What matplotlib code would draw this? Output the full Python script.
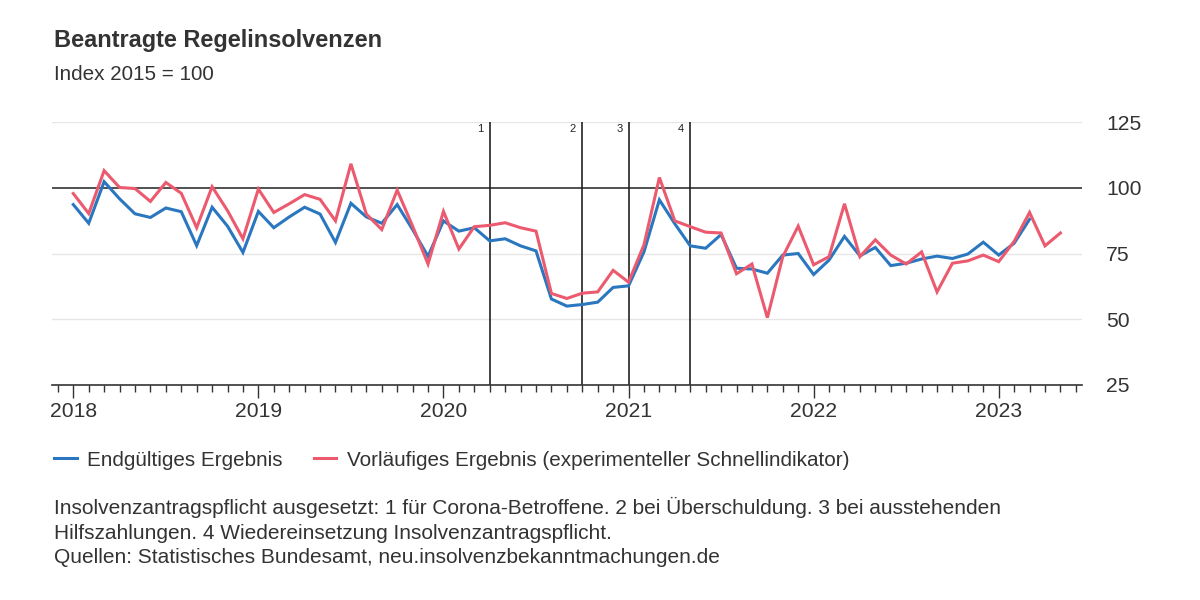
import numpy as np
import matplotlib
matplotlib.use("Agg")
import matplotlib.pyplot as plt

plt.rcParams['font.family'] = ['Liberation Sans', 'DejaVu Sans']

# monthly values starting Jan 2018
endgueltig = [
    93.6, 86.5, 102.3, 95.8, 90.1, 88.7, 92.3, 90.9, 78.0, 92.6, 85.4, 75.4,
    91.0, 84.8, 88.9, 92.6, 90.0, 79.2, 94.1, 88.9, 86.5, 93.6, 84.1, 73.9,
    87.4, 83.5, 84.8, 79.8, 80.6, 77.9, 76.0, 57.7, 55.0, 55.6, 56.5, 62.1,
    62.7, 75.6, 95.4, 86.3, 77.9, 77.0, 82.2, 69.4, 69.1, 67.5, 74.4, 75.0,
    67.0, 72.5, 81.5, 74.1, 77.3, 70.4, 71.3, 72.9, 74.0, 73.1, 74.8, 79.3,
    74.4, 78.9, 88.0,
]
vorlaeufig = [
    97.8, 90.2, 106.5, 100.1, 99.7, 94.8, 102.0, 97.9, 84.8, 100.4, 91.3, 80.6,
    99.5, 90.6, 93.9, 97.4, 95.6, 87.4, 109.1, 90.0, 84.1, 99.1, 85.4, 71.0,
    91.0, 76.7, 85.2, 85.7, 86.7, 84.8, 83.5, 59.8, 57.9, 59.9, 60.4, 68.6,
    64.1, 78.3, 103.9, 87.4, 85.2, 83.1, 82.8, 67.3, 71.0, 50.6, 73.8, 85.4,
    70.7, 73.8, 93.9, 73.8, 80.2, 74.4, 71.0, 75.6, 60.4, 71.3, 72.2, 74.4,
    71.9, 79.6, 90.6, 77.9, 82.8,
]
years = ["2018", "2019", "2020", "2021", "2022", "2023"]
# event markers (month index since Jan 2018) and labels
event_months = [27, 33, 36, 40]
event_labels = ["1", "2", "3", "4"]

blue = "#2a77c0"
red = "#eb5a6e"
text_col = "#333333"

fig = plt.figure(figsize=(12, 6), dpi=100)
ax = fig.add_axes([52 / 1200, 1 - 385 / 600, 1030 / 1200, 263 / 600])

ax.set_xlim(-1.38, 65.4)
ax.set_ylim(25, 125)

for v in [50, 75, 125]:
    ax.axhline(v, color="#e6e6e6", lw=1, zorder=0)
ax.axhline(100, color="#333333", lw=1.2, zorder=1)

for m, lab in zip(event_months, event_labels):
    ax.axvline(m, color="#222222", lw=1.2, zorder=1)
    ax.text(m - 0.4, 122.5, lab, ha="right", va="center", fontsize=8, color="#222222")

ax.plot(np.arange(len(endgueltig)), endgueltig, color=blue, lw=2.2, zorder=3,
        label="Endgültiges Ergebnis", solid_joinstyle="miter")
ax.plot(np.arange(len(vorlaeufig)), vorlaeufig, color=red, lw=2.2, zorder=4,
        label="Vorläufiges Ergebnis (experimenteller Schnellindikator)", solid_joinstyle="miter")

for s in ["top", "left", "right"]:
    ax.spines[s].set_visible(False)
ax.spines["bottom"].set_color("#333333")
ax.spines["bottom"].set_linewidth(1.2)

ax.set_xticks(np.arange(-1, 66), minor=True)
ax.set_xticks(np.arange(0, 72, 12))
ax.set_xticklabels(years)
ax.tick_params(axis="x", which="minor", length=5, width=1, color="#333333", direction="out")
ax.tick_params(axis="x", which="major", length=9, width=1, color="#333333", direction="out",
               labelsize=15.2, labelcolor=text_col, pad=3)

ax.yaxis.tick_right()
ax.set_yticks([25, 50, 75, 100, 125])
ax.tick_params(axis="y", length=0, labelsize=15.2, labelcolor=text_col, pad=17.5)

fig.text(54 / 1200, 1 - 40 / 600, "Beantragte Regelinsolvenzen", fontsize=16.9, fontweight="bold",
         color=text_col, va="center")
fig.text(54 / 1200, 1 - 75 / 600, "Index 2015 = 100", fontsize=14.9, color=text_col, va="center")

leg = ax.legend(loc="center left", bbox_to_anchor=(2 / 1030, -75 / 263), ncol=2, frameon=False,
                fontsize=14.9, handlelength=1.1, handletextpad=0.5, columnspacing=1.5,
                borderaxespad=0, borderpad=0)
for t in leg.get_texts():
    t.set_color(text_col)

foot = ("Insolvenzantragspflicht ausgesetzt: 1 für Corona-Betroffene. 2 bei Überschuldung. 3 bei ausstehenden\n"
        "Hilfszahlungen. 4 Wiedereinsetzung Insolvenzantragspflicht.\n"
        "Quellen: Statistisches Bundesamt, neu.insolvenzbekanntmachungen.de")
fig.text(54 / 1200, 1 - 497 / 600, foot, fontsize=15, color=text_col, va="top", linespacing=1.38)

fig.savefig("out.png", dpi=100, facecolor="white")
